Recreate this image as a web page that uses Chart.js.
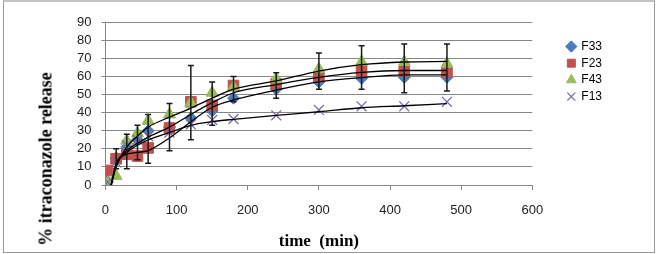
<!DOCTYPE html>
<html>
<head>
<meta charset="utf-8">
<script src="https://cdn.jsdelivr.net/npm/chart.js@4.4.1/dist/chart.umd.min.js"></script>
<style>
  html, body { margin: 0; padding: 0; background: #fff; }
  #wrap { position: relative; width: 659px; height: 254px; overflow: hidden; }
  #frame { position: absolute; left: 3px; top: 0; width: 650px; height: 250px; border: 1px solid #9a9a9a; border-top: 2px solid #c4c4c4; }
  #ChartRelease { position: absolute; left: 0; top: 0; }
  #yTitle { position: absolute; left: 46px; top: 159px; transform: translate(-50%, -50%) rotate(-90deg); font: bold 18px "Liberation Serif", serif; white-space: nowrap; color: #000; }
</style>
</head>
<body>
<div id="wrap">
  <div id="frame"></div>
  <canvas id="ChartRelease" width="659" height="254"></canvas>
  <div id="yTitle">% itraconazole release</div>
</div>
<script>
// sampling times (min) and % released per formulation
const times = [3, 15, 30, 45, 60, 90, 120, 150, 180, 240, 300, 360, 420, 480];
const f33 = [2, 15, 21, 25, 30, 32, 37, 41, 48, 53, 57, 59, 59.5, 59.5];
const f23 = [8, 14.5, 17, 16, 20.5, 31.5, 46, 44, 55, 56, 60, 63, 63, 62.5];
const f43 = [1, 5, 24.5, 28.5, 35.5, 39, 45.5, 51, 54, 58.5, 64, 68, 68, 67];
const f13 = [1.5, 12.5, 22, 25, 27, 29, 33.5, 36, 36.5, 38.5, 41.5, 43.5, 43.5, 46];

// error bar limits
const errLow = [null, 9, 9, 14, 12, 19, 25, 33, 46, 48, 53, 53, 51, 52];
const errHigh = [null, 20, 28, 33, 39, 45, 66, 57, 60, 62, 73, 77, 78, 78];

// black trend lines
const trendTimes = [8, 15, 30, 45, 60, 90, 120, 150, 180, 240, 300, 360, 420, 480];
const trend43 = [0, 10, 21, 27, 32, 37.5, 42.5, 48, 53, 57.5, 63, 66.5, 68, 68.3];
const trend23 = [0, 11, 19, 23, 26.5, 32, 39, 45.5, 51, 55.5, 59.5, 62.3, 63.3, 63.3];
const trend33 = [0, 12, 17, 18, 19, 26, 35, 43, 47, 52.5, 57, 59.4, 60.9, 60.9];
const trend13 = [0, 11, 18, 22, 25, 29, 33, 35, 36.3, 38.5, 40.5, 42.7, 43.8, 45];

const tickFont = { family: '"Liberation Sans", Arial, sans-serif', size: 13 };
const gridColor = '#878787';

const pts = (vals, ts) => ts.map((t, i) => ({ x: t, y: vals[i] }));

const errorBars = {
  id: 'errorBars',
  afterDatasetsDraw(chart) {
    const { ctx, scales: { x, y } } = chart;
    ctx.save();
    ctx.strokeStyle = '#1a1a1a';
    ctx.lineWidth = 1.5;
    times.forEach((t, i) => {
      if (errLow[i] == null) return;
      const px = x.getPixelForValue(t);
      const top = y.getPixelForValue(errHigh[i]);
      const bot = y.getPixelForValue(errLow[i]);
      ctx.beginPath();
      ctx.moveTo(px, top); ctx.lineTo(px, bot);
      ctx.moveTo(px - 3, top); ctx.lineTo(px + 3, top);
      ctx.moveTo(px - 3, bot); ctx.lineTo(px + 3, bot);
      ctx.stroke();
    });
    ctx.restore();
  }
};

const trend = (vals) => ({
  label: 'trend',
  data: pts(vals, trendTimes),
  showLine: true,
  borderColor: '#000',
  borderWidth: 1.3,
  pointRadius: 0,
  cubicInterpolationMode: 'monotone',
  order: 0,
});

const ctx = document.getElementById('ChartRelease').getContext('2d');
new Chart(ctx, {
  type: 'scatter',
  data: {
    datasets: [
      { label: 'F33', data: pts(f33, times), pointStyle: 'rectRot', pointRadius: 6,
        backgroundColor: '#4A7EBB', borderColor: '#4A7EBB', borderWidth: 1, order: 4 },
      { label: 'F23', data: pts(f23, times), pointStyle: 'rect', pointRadius: 7.5,
        backgroundColor: '#C0504D', borderColor: '#C0504D', borderWidth: 1, order: 3 },
      { label: 'F43', data: pts(f43, times), pointStyle: 'triangle', pointRadius: 7,
        backgroundColor: '#9BBB59', borderColor: '#9BBB59', borderWidth: 1, order: 2 },
      { label: 'F13', data: pts(f13, times), pointStyle: 'crossRot', pointRadius: 7,
        backgroundColor: '#7E6AA8', borderColor: '#7E6AA8', borderWidth: 1.3, order: 1 },
      trend(trend43),
      trend(trend23),
      trend(trend33),
      trend(trend13),
    ],
  },
  options: {
    responsive: false,
    animation: false,
    layout: { padding: { left: 67, right: 47, top: 22.2, bottom: 2 } },
    plugins: {
      tooltip: { enabled: false },
      legend: {
        position: 'right',
        align: 'start',
        fullSize: false,
        title: { display: true, text: ' ', font: { size: 1 }, padding: { top: 12.4, bottom: 0 } },
        labels: {
          usePointStyle: true,
          boxWidth: 8,
          boxHeight: 8,
          padding: 4.7,
          color: '#000',
          font: { family: '"Liberation Sans", Arial, sans-serif', size: 12 },
          filter: (item) => item.datasetIndex < 4,
          sort: (a, b) => a.datasetIndex - b.datasetIndex,
        },
      },
    },
    scales: {
      x: {
        type: 'linear',
        min: 0,
        max: 600,
        ticks: { stepSize: 100, padding: 13, color: '#222', font: tickFont },
        grid: { drawOnChartArea: false, drawTicks: true, tickLength: 5, color: gridColor },
        border: { color: gridColor },
        title: {
          display: true,
          text: 'time  (min)',
          color: '#000',
          font: { family: '"Liberation Serif", serif', size: 17, weight: 'bold' },
          padding: { top: 0, bottom: 0 },
        },
      },
      y: {
        min: 0,
        max: 90,
        ticks: { stepSize: 10, padding: 10, autoSkip: false, color: '#222', font: tickFont },
        grid: { color: gridColor, tickLength: 4 },
        border: { color: gridColor },
      },
      y2: {
        position: 'right',
        grid: { display: false },
        border: { display: false },
        ticks: { display: false },
        afterFit(scale) { scale.width = 30.3; },
      },
    },
  },
  plugins: [errorBars],
});
</script>
</body>
</html>
